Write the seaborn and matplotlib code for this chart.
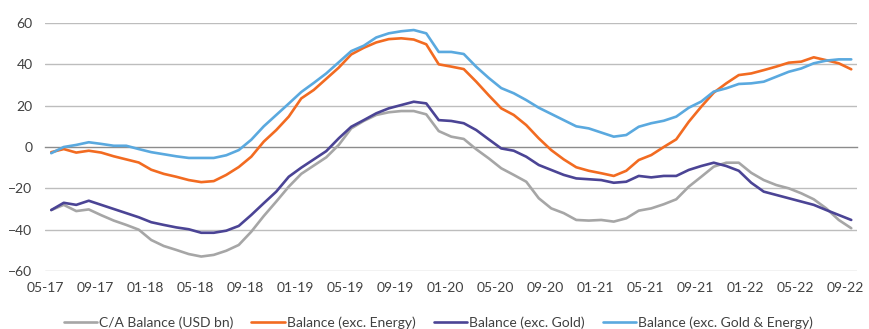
import pandas as pd
import matplotlib.pyplot as plt
import seaborn as sns

# months 05-17 .. 09-22
months = pd.date_range("2017-05-01", periods=65, freq="MS").strftime("%m-%y").tolist()

ca_balance = [-30.5, -28, -31, -30.2, -33, -35.6, -37.7, -40, -45, -47.9,
              -49.8, -51.8, -53, -52.2, -50.2, -47.4, -41, -33.4, -26.4, -19.2,
              -13, -9, -5, 1, 9, 12.6, 15.5, 16.8, 17.4, 17.4,
              15.8, 7.7, 5, 3.9, -1.1, -5.5, -10.3, -13.5, -16.8, -24.8,
              -29.7, -32, -35.3, -35.6, -35.3, -36.1, -34.5, -30.8, -29.7, -27.7,
              -25.3, -19.2, -14.4, -9.5, -7.6, -7.6, -12.5, -16, -18.4, -20,
              -22.4, -25.3, -29.7, -35.3, -39.3]
exc_energy = [-2.5, -1, -2.7, -1.8, -2.7, -4.5, -6, -7.5, -11, -13,
              -14.4, -16, -17, -16.5, -13.5, -9.7, -4.7, 2.6, 8.2, 14.7,
              23.5, 27.6, 33, 38.4, 44.8, 48, 50.6, 52.2, 52.6, 52,
              49.7, 40, 38.9, 37.7, 31.6, 25, 18.7, 15.5, 10.6, 4.2,
              -1.5, -6, -9.8, -11.5, -12.7, -14, -11.5, -6.3, -3.9, 0,
              3.7, 12.2, 19.5, 26.3, 30.8, 34.8, 35.6, 37.2, 38.9, 40.8,
              41.3, 43.4, 42, 40.5, 37.6]
exc_gold = [-30.5, -27, -28, -26, -28, -30, -32, -34, -36.4, -37.7,
            -38.9, -39.8, -41.5, -41.5, -40.5, -38.2, -32.9, -27.2, -21.6, -14.4,
            -10, -6, -2, 4.2, 9.8, 13, 16.3, 18.7, 20.3, 21.9,
            21.1, 13, 12.6, 11.5, 8.2, 3.7, -0.7, -1.8, -4.7, -8.7,
            -11.1, -13.5, -15.2, -15.6, -16, -17.3, -16.8, -14, -14.7, -14,
            -14, -11.1, -9.2, -7.6, -9.2, -11.5, -17.3, -21.6, -23.2, -24.8,
            -26.4, -28, -30.5, -32.9, -35.3]
exc_gold_energy = [-3, 0, 1, 2.3, 1.5, 0.6, 0.6, -1, -2.5, -3.5,
                   -4.5, -5.3, -5.3, -5.3, -4, -1.5, 3.5, 10, 15.5, 21,
                   26.6, 31, 35.6, 41, 46.4, 49, 53, 55, 56, 56.6,
                   55, 46, 46, 45, 38.8, 33.4, 28.5, 26, 22.7, 19,
                   16, 13, 10, 9, 7, 5, 5.8, 9.8, 11.5, 12.7,
                   14.7, 19, 22, 26.8, 28.4, 30.5, 30.8, 31.6, 34, 36.4,
                   38, 40.5, 41.8, 42.4, 42.4]

series_names = ["C/A Balance (USD bn)", "Balance (exc. Energy)",
                "Balance (exc. Gold)", "Balance (exc. Gold & Energy)"]
colors = ["#a6a6a6", "#f26b21", "#4b4495", "#5aa9df"]

frames = []
for name, vals in zip(series_names, [ca_balance, exc_energy, exc_gold, exc_gold_energy]):
    frames.append(pd.DataFrame({"x": range(len(months)), "value": vals, "series": name}))
df = pd.concat(frames, ignore_index=True)

sns.set_theme(style="white")
plt.rcParams["font.family"] = ["Lato", "DejaVu Sans"]

fig = plt.figure(figsize=(8.7, 3.29), dpi=100)
ax = fig.add_axes([45 / 870, 1 - 271 / 329, 812.5 / 870, 248 / 329])

sns.lineplot(data=df, x="x", y="value", hue="series", hue_order=series_names,
             palette=dict(zip(series_names, colors)), linewidth=1.9, ax=ax)

ax.set_xlim(-0.5, len(months) - 0.5)
ax.set_ylim(-60, 60)
ax.set_yticks(range(-60, 61, 20))
for yv in range(-60, 61, 20):
    if yv != 0:
        ax.axhline(yv, color="#bdbdbd", linewidth=1.0, zorder=0)

tick_pos = [i - 0.5 for i in range(0, len(months), 4)]
ax.set_xticks(tick_pos)
ax.set_xticklabels(months[::4])

for side in ["top", "right", "left"]:
    ax.spines[side].set_visible(False)
ax.spines["bottom"].set_position(("data", 0))
ax.spines["bottom"].set_color("#8c8c8c")
ax.spines["bottom"].set_linewidth(1.0)
ax.spines["bottom"].set_zorder(0)

ax.tick_params(axis="x", length=4, width=1, color="#8c8c8c", direction="out",
               pad=93, labelsize=10, labelcolor="#404040")
ax.tick_params(axis="y", length=0, pad=9, labelsize=10, labelcolor="#404040")
ax.set_xlabel("")
ax.set_ylabel("")

sns.move_legend(ax, "center", bbox_to_anchor=(0.484, -0.21), ncol=4, title=None,
                frameon=False, fontsize=10, handlelength=2.4, handletextpad=0.15,
                columnspacing=1.3, labelcolor="#404040")

fig.savefig("out.png", dpi=100)
